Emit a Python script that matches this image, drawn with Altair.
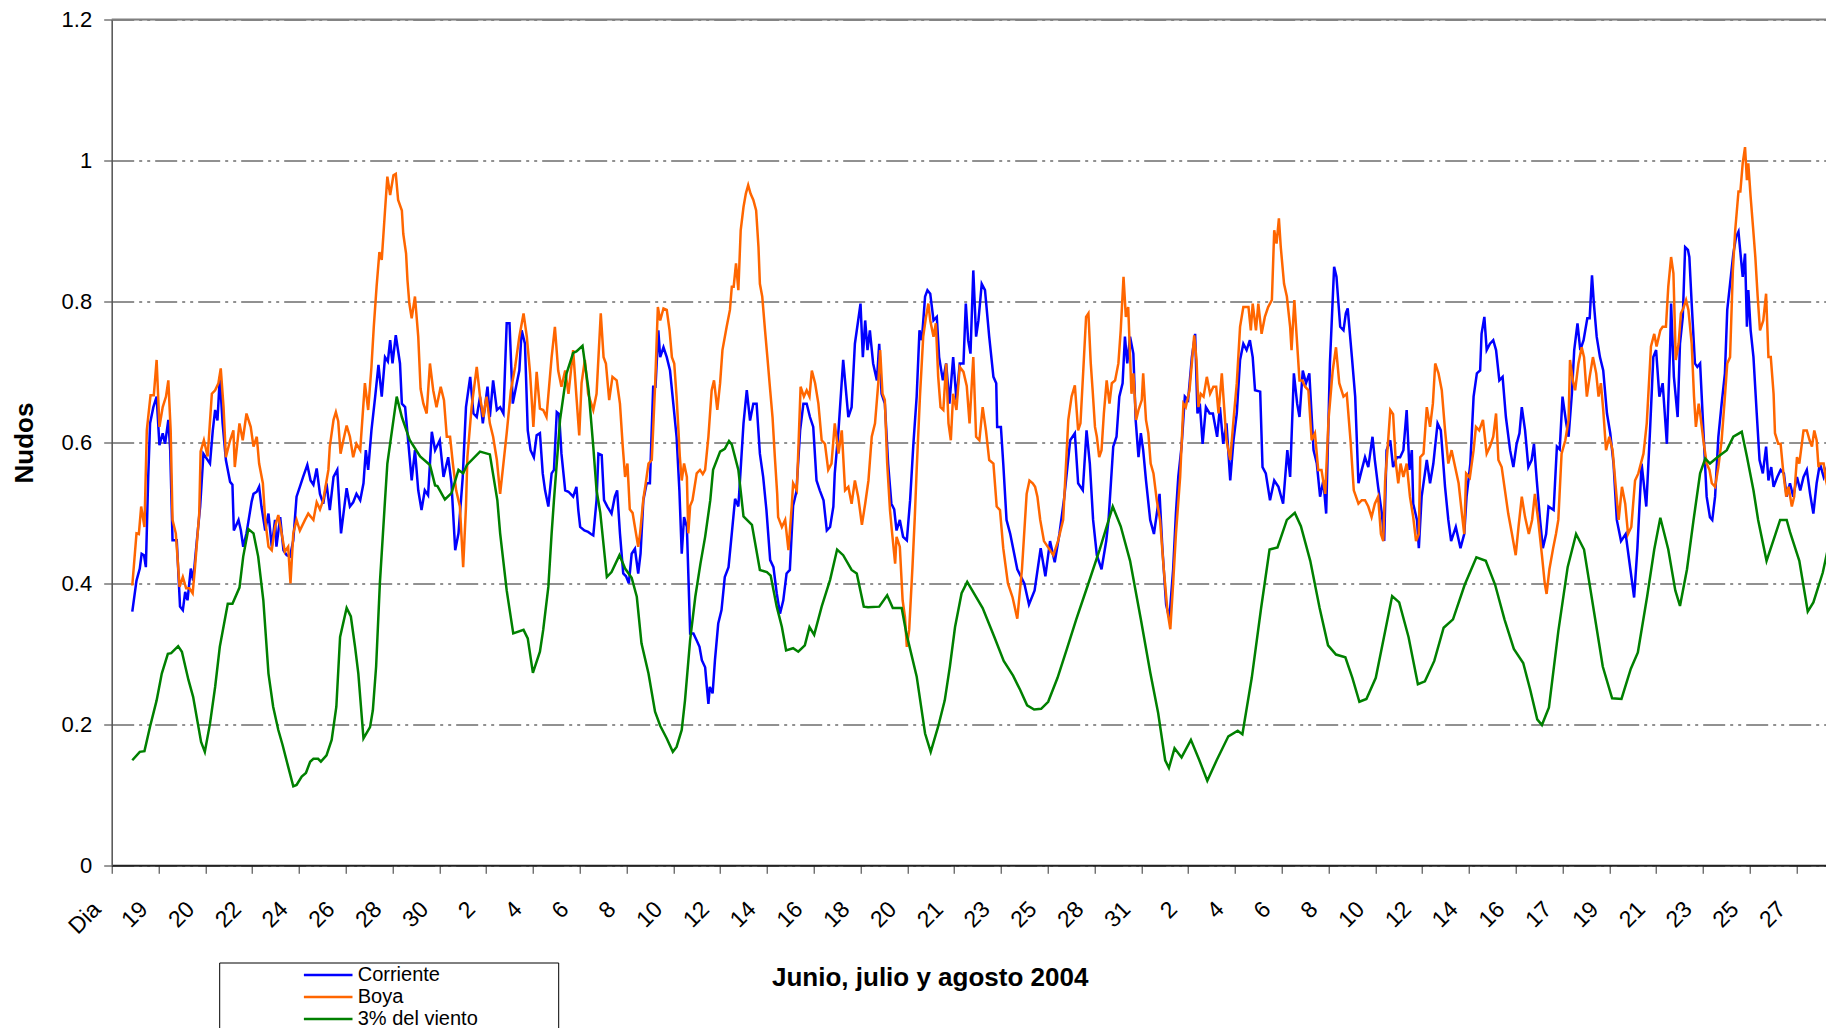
import altair as alt
import pandas as pd

# x positions are in units of the category-label step (tick 0 = "Dia")
tick_labels = ["Dia", "19", "20", "22", "24", "26", "28", "30", "2", "4", "6", "8", "10", "12",
               "14", "16", "18", "20", "21", "23", "25", "28", "31", "2", "4", "6", "8", "10",
               "12", "14", "16", "17", "19", "21", "23", "25", "27"]

series_names = ["Corriente", "Boya", "3% del viento"]
series_colors = ["#0000FF", "#FF6600", "#008000"]

corriente_t = [0.44, 0.53, 0.60, 0.64, 0.69, 0.73, 0.78, 0.82, 0.89, 0.96, 1.02, 1.09, 1.14, 1.21, 1.25, 1.30, 1.39, 1.46, 1.52, 1.57, 1.62, 1.69, 1.74, 1.82, 1.89, 1.96, 2.03, 2.10, 2.16, 2.21, 2.26, 2.31, 2.37, 2.44, 2.53, 2.58, 2.61, 2.71, 2.76, 2.81, 2.88, 2.99, 3.03, 3.10, 3.15, 3.20, 3.28, 3.35, 3.42, 3.49, 3.52, 3.60, 3.67, 3.74, 3.81, 3.88, 3.95, 4.02, 4.09, 4.18, 4.25, 4.31, 4.38, 4.45, 4.52, 4.59, 4.66, 4.74, 4.82, 4.90, 5.02, 5.09, 5.16, 5.23, 5.31, 5.38, 5.43, 5.48, 5.55, 5.63, 5.70, 5.77, 5.84, 5.90, 5.95, 6.00, 6.07, 6.16, 6.20, 6.27, 6.34, 6.41, 6.48, 6.55, 6.62, 6.69, 6.76, 6.84, 6.91, 7.01, 7.09, 7.19, 7.26, 7.34, 7.41, 7.50, 7.57, 7.66, 7.73, 7.80, 7.87, 7.93, 8.03, 8.08, 8.15, 8.23, 8.30, 8.37, 8.44, 8.50, 8.57, 8.64, 8.71, 8.76, 8.83, 8.89, 8.95, 9.02, 9.08, 9.15, 9.21, 9.26, 9.33, 9.40, 9.45, 9.51, 9.56, 9.61, 9.69, 9.76, 9.86, 9.93, 9.97, 10.01, 10.10, 10.18, 10.24, 10.29, 10.36, 10.40, 10.47, 10.52, 10.59, 10.68, 10.75, 10.80, 10.86, 10.93, 10.99, 11.05, 11.11, 11.18, 11.25, 11.30, 11.36, 11.43, 11.50, 11.57, 11.62, 11.68, 11.72, 11.79, 11.86, 11.93, 12.00, 12.07, 12.13, 12.18, 12.23, 12.29, 12.36, 12.43, 12.50, 12.56, 12.61, 12.68, 12.71, 12.75, 12.78, 12.84, 12.89, 12.96, 13.03, 13.10, 13.18, 13.25, 13.32, 13.39, 13.50, 13.57, 13.64, 13.71, 13.78, 13.85, 13.92, 13.99, 14.07, 14.14, 14.21, 14.28, 14.35, 14.42, 14.49, 14.56, 14.63, 14.71, 14.78, 14.85, 14.92, 14.99, 15.06, 15.13, 15.21, 15.28, 15.35, 15.42, 15.45, 15.53, 15.63, 15.74, 15.81, 15.88, 15.95, 16.00, 16.05, 16.10, 16.15, 16.20, 16.27, 16.35, 16.40, 16.45, 16.52, 16.59, 16.66, 16.72, 16.77, 16.84, 16.91, 16.99, 17.06, 17.13, 17.20, 17.26, 17.31, 17.38, 17.43, 17.49, 17.56, 17.63, 17.68, 17.76, 17.83, 17.90, 17.98, 18.05, 18.12, 18.20, 18.25, 18.30, 18.35, 18.41, 18.47, 18.52, 18.59, 18.66, 18.75, 18.84, 18.90, 18.92, 19.00, 19.05, 19.12, 19.20, 19.35, 19.50, 19.60, 19.72, 19.85, 19.95, 20.05, 20.15, 20.25, 20.35, 20.48, 20.58, 20.65, 20.75, 20.83, 20.90, 20.97, 21.05, 21.15, 21.25, 21.30, 21.40, 21.47, 21.53, 21.60, 21.65, 21.70, 21.76, 21.83, 21.88, 21.94, 21.99, 22.04, 22.10, 22.19, 22.27, 22.39, 22.45, 22.53, 22.60, 22.68, 22.74, 22.79, 22.86, 22.93, 23.00, 23.08, 23.15, 23.20, 23.25, 23.31, 23.38, 23.46, 23.53, 23.62, 23.68, 23.75, 23.82, 23.90, 23.97, 24.04, 24.11, 24.18, 24.25, 24.32, 24.38, 24.43, 24.54, 24.59, 24.66, 24.75, 24.84, 24.93, 25.03, 25.12, 25.18, 25.26, 25.33, 25.38, 25.45, 25.52, 25.59, 25.68, 25.75, 25.82, 25.89, 25.95, 26.03, 26.12, 26.17, 26.25, 26.32, 26.37, 26.41, 26.50, 26.57, 26.64, 26.71, 26.78, 26.85, 26.94, 26.99, 27.06, 27.14, 27.19, 27.24, 27.32, 27.38, 27.46, 27.53, 27.60, 27.67, 27.73, 27.78, 27.81, 27.89, 27.93, 27.99, 28.10, 28.17, 28.24, 28.33, 28.40, 28.49, 28.56, 28.62, 28.72, 28.82, 28.90, 28.95, 29.03, 29.10, 29.17, 29.24, 29.27, 29.33, 29.38, 29.45, 29.52, 29.58, 29.65, 29.72, 29.79, 29.88, 29.95, 30.02, 30.08, 30.13, 30.20, 30.27, 30.34, 30.39, 30.45, 30.52, 30.58, 30.65, 30.70, 30.81, 30.88, 30.94, 31.00, 31.08, 31.13, 31.20, 31.25, 31.32, 31.38, 31.45, 31.53, 31.58, 31.63, 31.67, 31.73, 31.80, 31.87, 31.95, 32.02, 32.09, 32.16, 32.25, 32.35, 32.45, 32.53, 32.60, 32.69, 32.79, 32.87, 32.94, 33.00, 33.07, 33.14, 33.23, 33.30, 33.32, 33.38, 33.46, 33.51, 33.57, 33.62, 33.68, 33.71, 33.76, 33.83, 33.88, 33.94, 34.01, 34.08, 34.15, 34.20, 34.26, 34.33, 34.40, 34.47, 34.52, 34.58, 34.65, 34.71, 34.76, 34.79, 34.85, 34.90, 34.94, 34.97, 35.02, 35.08, 35.15, 35.21, 35.28, 35.35, 35.40, 35.46, 35.51, 35.59, 35.66, 35.73, 35.79, 35.86, 35.93, 36.01, 36.08, 36.15, 36.22, 36.29, 36.36, 36.43, 36.50, 36.58, 36.65, 36.72, 36.80]
corriente_v = [0.360, 0.404, 0.421, 0.442, 0.440, 0.423, 0.550, 0.627, 0.650, 0.665, 0.596, 0.613, 0.598, 0.632, 0.589, 0.461, 0.461, 0.367, 0.362, 0.388, 0.376, 0.421, 0.404, 0.461, 0.509, 0.584, 0.577, 0.570, 0.617, 0.646, 0.631, 0.693, 0.627, 0.575, 0.544, 0.540, 0.475, 0.490, 0.475, 0.452, 0.471, 0.516, 0.527, 0.530, 0.537, 0.509, 0.475, 0.499, 0.452, 0.490, 0.452, 0.494, 0.447, 0.440, 0.438, 0.461, 0.523, 0.537, 0.551, 0.568, 0.546, 0.540, 0.563, 0.527, 0.513, 0.542, 0.504, 0.551, 0.561, 0.471, 0.535, 0.509, 0.515, 0.527, 0.518, 0.542, 0.589, 0.561, 0.617, 0.665, 0.710, 0.665, 0.721, 0.715, 0.745, 0.712, 0.752, 0.712, 0.655, 0.650, 0.598, 0.546, 0.589, 0.532, 0.504, 0.532, 0.525, 0.615, 0.589, 0.603, 0.551, 0.579, 0.542, 0.447, 0.471, 0.550, 0.650, 0.693, 0.641, 0.636, 0.665, 0.627, 0.679, 0.636, 0.688, 0.646, 0.650, 0.641, 0.769, 0.769, 0.655, 0.679, 0.702, 0.759, 0.740, 0.617, 0.589, 0.579, 0.610, 0.613, 0.556, 0.532, 0.509, 0.556, 0.561, 0.643, 0.640, 0.584, 0.532, 0.530, 0.523, 0.537, 0.504, 0.480, 0.475, 0.473, 0.470, 0.468, 0.518, 0.584, 0.582, 0.518, 0.509, 0.499, 0.523, 0.532, 0.471, 0.414, 0.410, 0.400, 0.442, 0.449, 0.414, 0.442, 0.518, 0.542, 0.542, 0.679, 0.679, 0.759, 0.721, 0.735, 0.721, 0.702, 0.655, 0.608, 0.532, 0.442, 0.494, 0.480, 0.329, 0.329, 0.319, 0.310, 0.291, 0.281, 0.258, 0.229, 0.253, 0.244, 0.291, 0.343, 0.362, 0.409, 0.423, 0.471, 0.520, 0.509, 0.627, 0.674, 0.631, 0.655, 0.655, 0.584, 0.551, 0.504, 0.433, 0.423, 0.386, 0.357, 0.376, 0.414, 0.419, 0.510, 0.530, 0.617, 0.655, 0.655, 0.636, 0.622, 0.546, 0.532, 0.518, 0.475, 0.480, 0.509, 0.556, 0.617, 0.717, 0.636, 0.650, 0.740, 0.773, 0.797, 0.721, 0.773, 0.731, 0.759, 0.712, 0.688, 0.740, 0.669, 0.655, 0.570, 0.513, 0.505, 0.475, 0.490, 0.466, 0.461, 0.518, 0.598, 0.665, 0.759, 0.745, 0.807, 0.816, 0.811, 0.773, 0.778, 0.721, 0.688, 0.712, 0.655, 0.721, 0.660, 0.712, 0.712, 0.797, 0.745, 0.726, 0.844, 0.750, 0.773, 0.825, 0.816, 0.750, 0.693, 0.684, 0.622, 0.622, 0.570, 0.490, 0.470, 0.420, 0.400, 0.370, 0.390, 0.450, 0.410, 0.460, 0.430, 0.470, 0.520, 0.603, 0.613, 0.542, 0.532, 0.617, 0.570, 0.490, 0.440, 0.420, 0.460, 0.490, 0.594, 0.608, 0.665, 0.684, 0.750, 0.712, 0.750, 0.726, 0.631, 0.579, 0.613, 0.589, 0.546, 0.490, 0.470, 0.527, 0.450, 0.370, 0.350, 0.420, 0.500, 0.551, 0.594, 0.665, 0.660, 0.721, 0.754, 0.641, 0.655, 0.598, 0.650, 0.641, 0.641, 0.608, 0.650, 0.598, 0.627, 0.546, 0.603, 0.641, 0.717, 0.740, 0.731, 0.745, 0.721, 0.674, 0.672, 0.565, 0.556, 0.518, 0.546, 0.537, 0.513, 0.589, 0.551, 0.698, 0.655, 0.636, 0.702, 0.684, 0.698, 0.589, 0.570, 0.523, 0.546, 0.499, 0.712, 0.849, 0.835, 0.764, 0.759, 0.783, 0.790, 0.721, 0.665, 0.542, 0.561, 0.579, 0.565, 0.608, 0.575, 0.537, 0.499, 0.460, 0.589, 0.603, 0.565, 0.579, 0.579, 0.589, 0.646, 0.561, 0.589, 0.513, 0.490, 0.450, 0.523, 0.575, 0.542, 0.570, 0.627, 0.617, 0.537, 0.490, 0.460, 0.480, 0.450, 0.470, 0.523, 0.570, 0.665, 0.698, 0.702, 0.754, 0.778, 0.731, 0.740, 0.745, 0.731, 0.688, 0.693, 0.636, 0.589, 0.565, 0.598, 0.613, 0.650, 0.617, 0.565, 0.575, 0.598, 0.546, 0.490, 0.450, 0.470, 0.509, 0.504, 0.594, 0.590, 0.665, 0.627, 0.608, 0.669, 0.731, 0.769, 0.731, 0.745, 0.776, 0.776, 0.837, 0.797, 0.750, 0.721, 0.702, 0.641, 0.613, 0.570, 0.490, 0.460, 0.470, 0.420, 0.380, 0.450, 0.570, 0.509, 0.617, 0.721, 0.731, 0.665, 0.684, 0.598, 0.736, 0.797, 0.693, 0.636, 0.740, 0.778, 0.877, 0.873, 0.863, 0.797, 0.712, 0.707, 0.712, 0.617, 0.523, 0.494, 0.490, 0.523, 0.608, 0.655, 0.698, 0.788, 0.825, 0.868, 0.892, 0.899, 0.877, 0.835, 0.868, 0.764, 0.816, 0.759, 0.721, 0.641, 0.575, 0.556, 0.594, 0.546, 0.565, 0.537, 0.551, 0.561, 0.556, 0.523, 0.542, 0.523, 0.551, 0.532, 0.551, 0.561, 0.527, 0.499, 0.542, 0.570, 0.551, 0.565, 0.579, 0.584]

boya_t = [0.44, 0.53, 0.58, 0.63, 0.70, 0.75, 0.83, 0.90, 0.96, 1.02, 1.09, 1.16, 1.21, 1.26, 1.30, 1.37, 1.45, 1.52, 1.59, 1.66, 1.73, 1.78, 1.87, 1.90, 1.97, 2.05, 2.14, 2.21, 2.28, 2.33, 2.39, 2.44, 2.53, 2.60, 2.63, 2.73, 2.80, 2.88, 2.97, 3.03, 3.10, 3.15, 3.23, 3.28, 3.35, 3.42, 3.49, 3.56, 3.63, 3.70, 3.77, 3.82, 3.88, 3.95, 4.02, 4.13, 4.20, 4.31, 4.38, 4.45, 4.52, 4.63, 4.66, 4.74, 4.79, 4.84, 4.89, 4.95, 5.02, 5.09, 5.16, 5.23, 5.31, 5.41, 5.48, 5.55, 5.60, 5.66, 5.72, 5.77, 5.84, 5.89, 5.95, 6.02, 6.07, 6.12, 6.20, 6.23, 6.29, 6.32, 6.36, 6.41, 6.48, 6.55, 6.60, 6.66, 6.73, 6.80, 6.87, 6.94, 7.03, 7.10, 7.16, 7.23, 7.29, 7.36, 7.44, 7.51, 7.57, 7.60, 7.69, 7.80, 7.87, 7.94, 8.01, 8.08, 8.15, 8.23, 8.30, 8.37, 8.44, 8.53, 8.62, 8.71, 8.80, 8.87, 8.94, 9.01, 9.08, 9.15, 9.22, 9.29, 9.40, 9.47, 9.54, 9.61, 9.69, 9.76, 9.86, 9.93, 9.99, 10.04, 10.11, 10.18, 10.29, 10.36, 10.45, 10.51, 10.56, 10.63, 10.70, 10.79, 10.86, 10.92, 10.97, 11.02, 11.07, 11.13, 11.18, 11.25, 11.29, 11.36, 11.40, 11.47, 11.54, 11.61, 11.67, 11.72, 11.79, 11.86, 11.92, 11.97, 12.02, 12.07, 12.11, 12.14, 12.18, 12.23, 12.29, 12.32, 12.36, 12.41, 12.50, 12.57, 12.63, 12.68, 12.75, 12.82, 12.87, 12.94, 13.00, 13.05, 13.14, 13.21, 13.25, 13.29, 13.34, 13.39, 13.44, 13.50, 13.55, 13.60, 13.65, 13.71, 13.77, 13.82, 13.85, 13.90, 13.96, 14.01, 14.07, 14.12, 14.17, 14.22, 14.24, 14.32, 14.39, 14.46, 14.53, 14.56, 14.64, 14.72, 14.79, 14.85, 14.91, 14.96, 15.03, 15.10, 15.17, 15.24, 15.31, 15.38, 15.45, 15.53, 15.60, 15.67, 15.74, 15.81, 15.88, 15.95, 16.03, 16.10, 16.17, 16.24, 16.31, 16.38, 16.42, 16.47, 16.52, 16.57, 16.63, 16.67, 16.74, 16.77, 16.84, 16.90, 16.95, 16.99, 17.04, 17.11, 17.16, 17.20, 17.27, 17.34, 17.40, 17.45, 17.49, 17.56, 17.61, 17.66, 17.71, 17.77, 17.83, 17.88, 17.93, 17.98, 18.05, 18.12, 18.20, 18.27, 18.33, 18.41, 18.47, 18.54, 18.61, 18.68, 18.75, 18.84, 18.91, 18.98, 19.05, 19.15, 19.25, 19.35, 19.45, 19.55, 19.61, 19.68, 19.73, 19.78, 19.84, 19.92, 20.02, 20.12, 20.22, 20.33, 20.44, 20.51, 20.58, 20.65, 20.70, 20.76, 20.82, 20.87, 20.92, 20.96, 21.01, 21.05, 21.10, 21.15, 21.20, 21.26, 21.32, 21.37, 21.44, 21.51, 21.56, 21.62, 21.67, 21.72, 21.79, 21.83, 21.89, 21.94, 22.01, 22.04, 22.10, 22.15, 22.20, 22.26, 22.33, 22.40, 22.48, 22.56, 22.62, 22.68, 22.74, 22.83, 22.90, 22.95, 23.03, 23.08, 23.13, 23.18, 23.22, 23.27, 23.33, 23.40, 23.47, 23.54, 23.60, 23.65, 23.72, 23.77, 23.82, 23.90, 23.97, 24.04, 24.11, 24.18, 24.24, 24.29, 24.34, 24.38, 24.45, 24.50, 24.57, 24.64, 24.71, 24.79, 24.84, 24.89, 24.94, 24.98, 25.05, 25.11, 25.18, 25.21, 25.27, 25.32, 25.38, 25.44, 25.50, 25.57, 25.64, 25.71, 25.78, 25.85, 25.93, 26.00, 26.09, 26.16, 26.23, 26.32, 26.39, 26.47, 26.54, 26.64, 26.71, 26.78, 26.85, 26.92, 26.99, 27.06, 27.12, 27.17, 27.21, 27.26, 27.32, 27.38, 27.44, 27.49, 27.54, 27.60, 27.67, 27.74, 27.81, 27.87, 27.93, 27.96, 28.03, 28.10, 28.17, 28.23, 28.28, 28.35, 28.42, 28.49, 28.56, 28.63, 28.69, 28.78, 28.85, 28.90, 28.94, 29.02, 29.10, 29.15, 29.22, 29.30, 29.38, 29.45, 29.52, 29.58, 29.63, 29.70, 29.77, 29.84, 29.92, 30.00, 30.06, 30.13, 30.20, 30.28, 30.35, 30.41, 30.48, 30.56, 30.62, 30.66, 30.72, 30.80, 30.86, 30.91, 30.98, 31.06, 31.13, 31.16, 31.22, 31.27, 31.34, 31.41, 31.46, 31.52, 31.58, 31.65, 31.72, 31.77, 31.82, 31.87, 31.93, 32.00, 32.07, 32.15, 32.20, 32.27, 32.34, 32.40, 32.47, 32.55, 32.62, 32.73, 32.80, 32.89, 32.96, 33.01, 33.09, 33.14, 33.21, 33.26, 33.32, 33.37, 33.42, 33.48, 33.53, 33.58, 33.64, 33.69, 33.76, 33.81, 33.85, 33.91, 33.95, 34.01, 34.08, 34.14, 34.19, 34.26, 34.33, 34.40, 34.47, 34.52, 34.58, 34.64, 34.69, 34.76, 34.80, 34.85, 34.90, 34.94, 34.97, 35.02, 35.07, 35.12, 35.17, 35.22, 35.29, 35.35, 35.40, 35.45, 35.51, 35.54, 35.61, 35.66, 35.72, 35.78, 35.83, 35.90, 35.95, 36.01, 36.06, 36.15, 36.22, 36.28, 36.33, 36.38, 36.43, 36.47, 36.50, 36.58, 36.63, 36.68, 36.73, 36.80]
boya_v = [0.397, 0.471, 0.470, 0.509, 0.480, 0.617, 0.667, 0.667, 0.717, 0.622, 0.650, 0.665, 0.688, 0.617, 0.490, 0.471, 0.395, 0.409, 0.393, 0.393, 0.386, 0.423, 0.499, 0.587, 0.603, 0.580, 0.669, 0.674, 0.684, 0.705, 0.650, 0.579, 0.603, 0.617, 0.565, 0.627, 0.603, 0.641, 0.622, 0.594, 0.608, 0.570, 0.542, 0.490, 0.452, 0.447, 0.480, 0.497, 0.471, 0.445, 0.452, 0.400, 0.471, 0.490, 0.475, 0.490, 0.499, 0.490, 0.515, 0.505, 0.518, 0.561, 0.594, 0.632, 0.643, 0.630, 0.584, 0.603, 0.624, 0.608, 0.579, 0.598, 0.589, 0.684, 0.646, 0.707, 0.764, 0.821, 0.870, 0.859, 0.929, 0.977, 0.951, 0.979, 0.981, 0.944, 0.929, 0.896, 0.868, 0.830, 0.797, 0.776, 0.807, 0.750, 0.676, 0.655, 0.641, 0.712, 0.674, 0.650, 0.679, 0.660, 0.608, 0.608, 0.570, 0.532, 0.509, 0.423, 0.509, 0.579, 0.650, 0.707, 0.665, 0.636, 0.665, 0.627, 0.608, 0.575, 0.527, 0.570, 0.613, 0.674, 0.707, 0.750, 0.783, 0.750, 0.698, 0.622, 0.700, 0.648, 0.646, 0.636, 0.721, 0.764, 0.702, 0.679, 0.702, 0.669, 0.731, 0.665, 0.610, 0.684, 0.717, 0.669, 0.646, 0.669, 0.783, 0.721, 0.712, 0.660, 0.693, 0.688, 0.655, 0.594, 0.551, 0.570, 0.505, 0.500, 0.480, 0.452, 0.471, 0.520, 0.537, 0.570, 0.575, 0.679, 0.792, 0.773, 0.790, 0.788, 0.759, 0.721, 0.712, 0.665, 0.617, 0.579, 0.546, 0.570, 0.551, 0.471, 0.510, 0.518, 0.556, 0.561, 0.555, 0.561, 0.608, 0.674, 0.688, 0.646, 0.684, 0.731, 0.764, 0.788, 0.821, 0.821, 0.854, 0.816, 0.901, 0.934, 0.953, 0.965, 0.953, 0.944, 0.929, 0.877, 0.825, 0.807, 0.759, 0.721, 0.674, 0.636, 0.579, 0.527, 0.494, 0.480, 0.490, 0.447, 0.509, 0.542, 0.532, 0.679, 0.665, 0.674, 0.665, 0.702, 0.684, 0.655, 0.603, 0.598, 0.561, 0.570, 0.627, 0.584, 0.617, 0.532, 0.537, 0.513, 0.546, 0.523, 0.483, 0.513, 0.546, 0.608, 0.627, 0.684, 0.731, 0.669, 0.660, 0.570, 0.504, 0.475, 0.428, 0.466, 0.452, 0.376, 0.352, 0.310, 0.334, 0.423, 0.494, 0.561, 0.665, 0.750, 0.778, 0.797, 0.773, 0.750, 0.769, 0.693, 0.650, 0.646, 0.712, 0.627, 0.603, 0.669, 0.646, 0.707, 0.700, 0.680, 0.627, 0.721, 0.608, 0.603, 0.650, 0.617, 0.575, 0.570, 0.509, 0.504, 0.450, 0.400, 0.380, 0.350, 0.420, 0.527, 0.546, 0.542, 0.537, 0.523, 0.490, 0.460, 0.450, 0.440, 0.460, 0.490, 0.632, 0.665, 0.681, 0.617, 0.627, 0.702, 0.778, 0.783, 0.712, 0.674, 0.622, 0.608, 0.579, 0.589, 0.641, 0.688, 0.655, 0.684, 0.688, 0.712, 0.759, 0.835, 0.778, 0.792, 0.669, 0.698, 0.632, 0.646, 0.660, 0.698, 0.632, 0.613, 0.570, 0.556, 0.518, 0.490, 0.420, 0.360, 0.335, 0.400, 0.470, 0.551, 0.655, 0.650, 0.674, 0.712, 0.752, 0.717, 0.650, 0.669, 0.665, 0.693, 0.669, 0.679, 0.679, 0.641, 0.698, 0.650, 0.603, 0.575, 0.632, 0.684, 0.764, 0.792, 0.792, 0.792, 0.759, 0.797, 0.759, 0.797, 0.754, 0.778, 0.792, 0.802, 0.901, 0.882, 0.918, 0.877, 0.825, 0.807, 0.764, 0.731, 0.802, 0.750, 0.688, 0.688, 0.679, 0.674, 0.603, 0.613, 0.561, 0.561, 0.527, 0.632, 0.702, 0.735, 0.684, 0.665, 0.669, 0.603, 0.532, 0.513, 0.518, 0.518, 0.509, 0.494, 0.513, 0.523, 0.470, 0.460, 0.546, 0.589, 0.646, 0.640, 0.570, 0.542, 0.570, 0.551, 0.570, 0.523, 0.494, 0.460, 0.470, 0.579, 0.584, 0.650, 0.622, 0.655, 0.712, 0.698, 0.674, 0.617, 0.570, 0.589, 0.570, 0.542, 0.499, 0.470, 0.556, 0.550, 0.589, 0.622, 0.617, 0.632, 0.584, 0.594, 0.608, 0.641, 0.575, 0.565, 0.532, 0.499, 0.470, 0.440, 0.480, 0.523, 0.494, 0.470, 0.490, 0.527, 0.490, 0.440, 0.400, 0.385, 0.420, 0.450, 0.470, 0.490, 0.584, 0.603, 0.632, 0.717, 0.688, 0.674, 0.712, 0.735, 0.721, 0.665, 0.693, 0.721, 0.698, 0.665, 0.684, 0.646, 0.589, 0.608, 0.589, 0.527, 0.490, 0.537, 0.513, 0.470, 0.480, 0.546, 0.556, 0.584, 0.627, 0.736, 0.754, 0.736, 0.759, 0.764, 0.764, 0.821, 0.863, 0.840, 0.717, 0.740, 0.783, 0.790, 0.802, 0.788, 0.740, 0.665, 0.622, 0.655, 0.636, 0.603, 0.570, 0.561, 0.542, 0.537, 0.565, 0.603, 0.665, 0.712, 0.721, 0.844, 0.901, 0.956, 0.956, 0.996, 1.019, 0.972, 0.996, 0.948, 0.906, 0.863, 0.807, 0.759, 0.773, 0.811, 0.721, 0.721, 0.669, 0.613, 0.598, 0.598, 0.556, 0.523, 0.537, 0.509, 0.523, 0.579, 0.570, 0.617, 0.617, 0.603, 0.594, 0.617, 0.603, 0.565, 0.570, 0.570, 0.546, 0.532, 0.556, 0.570]

viento_t = [0.44, 0.60, 0.70, 0.82, 0.96, 1.07, 1.20, 1.27, 1.42, 1.50, 1.64, 1.74, 1.91, 1.99, 2.10, 2.21, 2.31, 2.48, 2.58, 2.73, 2.81, 2.92, 3.03, 3.13, 3.24, 3.35, 3.45, 3.56, 3.65, 3.77, 3.88, 3.95, 4.06, 4.15, 4.24, 4.31, 4.41, 4.47, 4.59, 4.70, 4.80, 4.88, 5.02, 5.11, 5.20, 5.27, 5.38, 5.52, 5.58, 5.65, 5.73, 5.84, 5.89, 6.09, 6.20, 6.37, 6.59, 6.80, 6.91, 6.96, 7.12, 7.26, 7.41, 7.51, 7.59, 7.87, 8.08, 8.24, 8.30, 8.44, 8.58, 8.80, 8.89, 9.00, 9.15, 9.22, 9.33, 9.40, 9.45, 9.58, 9.72, 9.86, 9.93, 10.06, 10.19, 10.29, 10.36, 10.44, 10.58, 10.68, 10.85, 10.97, 11.11, 11.22, 11.32, 11.47, 11.61, 11.72, 11.86, 11.99, 12.07, 12.18, 12.25, 12.36, 12.47, 12.58, 12.68, 12.79, 12.85, 13.00, 13.10, 13.19, 13.25, 13.39, 13.50, 13.68, 13.85, 14.00, 14.08, 14.21, 14.32, 14.41, 14.56, 14.67, 14.81, 14.91, 15.01, 15.17, 15.35, 15.50, 15.63, 15.81, 15.92, 16.07, 16.16, 16.40, 16.57, 16.69, 16.88, 16.98, 17.20, 17.38, 17.50, 17.66, 17.80, 17.91, 18.02, 18.16, 18.28, 18.61, 18.86, 19.06, 19.26, 19.41, 19.56, 19.71, 19.86, 20.01, 20.21, 20.41, 20.61, 20.86, 21.11, 21.39, 21.56, 21.76, 21.99, 22.19, 22.36, 22.51, 22.59, 22.71, 22.86, 23.06, 23.24, 23.41, 23.61, 23.86, 24.06, 24.16, 24.36, 24.56, 24.74, 24.91, 25.11, 25.28, 25.41, 25.61, 25.81, 25.99, 26.16, 26.36, 26.51, 26.66, 26.81, 27.01, 27.21, 27.36, 27.51, 27.71, 27.91, 28.06, 28.26, 28.46, 28.66, 28.91, 29.16, 29.36, 29.56, 29.76, 29.96, 30.16, 30.31, 30.46, 30.56, 30.71, 30.91, 31.11, 31.29, 31.46, 31.66, 31.86, 32.06, 32.26, 32.46, 32.61, 32.81, 32.96, 33.09, 33.26, 33.41, 33.51, 33.66, 33.80, 33.94, 34.05, 34.15, 34.33, 34.51, 34.65, 34.83, 34.94, 35.08, 35.18, 35.36, 35.55, 35.65, 35.79, 35.86, 36.06, 36.24, 36.36, 36.56, 36.74]
viento_v = [0.149, 0.161, 0.162, 0.197, 0.234, 0.272, 0.300, 0.301, 0.311, 0.303, 0.263, 0.239, 0.175, 0.161, 0.201, 0.253, 0.310, 0.371, 0.371, 0.394, 0.438, 0.477, 0.471, 0.438, 0.376, 0.272, 0.225, 0.192, 0.171, 0.140, 0.112, 0.114, 0.126, 0.131, 0.147, 0.151, 0.151, 0.147, 0.156, 0.178, 0.225, 0.324, 0.365, 0.353, 0.310, 0.272, 0.180, 0.196, 0.220, 0.282, 0.400, 0.518, 0.570, 0.665, 0.636, 0.603, 0.580, 0.568, 0.539, 0.538, 0.519, 0.528, 0.561, 0.556, 0.568, 0.587, 0.583, 0.518, 0.471, 0.390, 0.329, 0.334, 0.322, 0.273, 0.303, 0.334, 0.395, 0.471, 0.518, 0.632, 0.698, 0.727, 0.729, 0.737, 0.674, 0.594, 0.532, 0.500, 0.409, 0.416, 0.440, 0.421, 0.408, 0.381, 0.315, 0.272, 0.218, 0.198, 0.180, 0.161, 0.168, 0.192, 0.234, 0.320, 0.381, 0.428, 0.466, 0.518, 0.561, 0.587, 0.591, 0.602, 0.597, 0.561, 0.495, 0.483, 0.419, 0.416, 0.411, 0.367, 0.338, 0.305, 0.308, 0.303, 0.312, 0.338, 0.327, 0.367, 0.405, 0.448, 0.440, 0.419, 0.414, 0.367, 0.366, 0.367, 0.383, 0.365, 0.365, 0.329, 0.268, 0.187, 0.161, 0.197, 0.234, 0.282, 0.338, 0.386, 0.402, 0.365, 0.324, 0.290, 0.269, 0.249, 0.227, 0.221, 0.222, 0.232, 0.266, 0.307, 0.349, 0.398, 0.448, 0.509, 0.481, 0.432, 0.349, 0.274, 0.216, 0.149, 0.138, 0.166, 0.153, 0.178, 0.149, 0.120, 0.149, 0.183, 0.191, 0.186, 0.266, 0.365, 0.448, 0.451, 0.490, 0.500, 0.481, 0.432, 0.365, 0.312, 0.299, 0.295, 0.266, 0.232, 0.236, 0.266, 0.332, 0.382, 0.373, 0.324, 0.257, 0.261, 0.290, 0.337, 0.349, 0.398, 0.437, 0.432, 0.398, 0.349, 0.307, 0.287, 0.249, 0.207, 0.199, 0.224, 0.332, 0.423, 0.470, 0.448, 0.365, 0.282, 0.237, 0.236, 0.279, 0.302, 0.382, 0.448, 0.493, 0.448, 0.390, 0.368, 0.420, 0.490, 0.556, 0.577, 0.570, 0.580, 0.589, 0.608, 0.615, 0.580, 0.532, 0.490, 0.432, 0.470, 0.490, 0.490, 0.473, 0.432, 0.360, 0.373, 0.415, 0.470]

y_ticks = [0, 0.2, 0.4, 0.6, 0.8, 1, 1.2]

FONT = "Liberation Sans"

frames = []
for name, ts, vs in zip(series_names, [corriente_t, boya_t, viento_t], [corriente_v, boya_v, viento_v]):
    frames.append(pd.DataFrame({"t": ts, "v": vs, "serie": name}))
df = pd.concat(frames, ignore_index=True)

label_js = "[" + ",".join("'" + s + "'" for s in tick_labels) + "]"

x_enc = alt.X(
    "t:Q",
    scale=alt.Scale(domain=[0, 36.63], nice=False, zero=False),
    axis=alt.Axis(
        values=list(range(len(tick_labels))),
        labelExpr=label_js + "[datum.value]",
        labelAngle=315,
        labelAlign="right",
        labelBaseline="middle",
        labelOffset=-15,
        labelPadding=32,
        labelFontSize=23,
        labelFont=FONT,
        labelColor="black",
        labelOverlap=False,
        labelFlush=False,
        labelBound=False,
        tickSize=8,
        tickColor="#333333",
        domainColor="#222222",
        domainWidth=2,
        grid=False,
        title="Junio, julio y agosto 2004",
        titleFont=FONT,
        titleFontSize=26,
        titleFontWeight="bold",
        titleColor="black",
        titleX=818,
        titleY=112,
        titleAlign="center",
        titleBaseline="middle",
    ),
)

y_enc = alt.Y(
    "v:Q",
    scale=alt.Scale(domain=[0, 1.2], nice=False, zero=True),
    axis=alt.Axis(
        values=y_ticks,
        format="~g",
        labelFontSize=22,
        labelFont=FONT,
        labelColor="black",
        labelPadding=12,
        tickSize=8,
        tickColor="#333333",
        domainColor="#555555",
        domainWidth=1.5,
        grid=True,
        gridColor="#222222",
        gridWidth=1,
        gridDash=[22, 5, 3, 5, 3, 5],
        title="Nudos",
        titleFont=FONT,
        titleFontSize=26,
        titleFontWeight="bold",
        titleColor="black",
        titleAngle=270,
        titleX=-87,
        titleY=423,
        titleAlign="center",
        titleBaseline="middle",
    ),
)

color_enc = alt.Color(
    "serie:N",
    scale=alt.Scale(domain=series_names, range=series_colors),
    legend=alt.Legend(
        orient="none",
        legendX=206,
        legendY=945,
        title=None,
        padding=0,
        labelFont=FONT,
        labelFontSize=20,
        labelColor="black",
        labelOffset=19,
        rowPadding=1,
        symbolType="M-2.7,0H2.7",
        symbolSize=324,
        symbolStrokeWidth=2.5,
    ),
)

lines = []
for name in series_names:
    lines.append(
        alt.Chart(df)
        .transform_filter(alt.datum.serie == name)
        .mark_line(strokeWidth=2.5, clip=True)
        .encode(x=x_enc, y=y_enc, color=color_enc)
    )

top_rule = (
    alt.Chart(pd.DataFrame({"v": [1.2]}))
    .mark_rule(color="#808080", strokeWidth=2)
    .encode(y=alt.Y("v:Q"))
)

legend_box = (
    alt.Chart(pd.DataFrame({"a": [0]}))
    .mark_rect(fill="white", stroke="black", strokeWidth=1)
    .encode(x=alt.value(108), x2=alt.value(447), y=alt.value(943.5), y2=alt.value(1040))
)

chart = (
    alt.layer(legend_box, top_rule, *lines)
    .properties(
        width=1714.3,
        height=845.8,
        autosize=alt.AutoSizeParams(type="none"),
        padding={"left": 103.7, "top": 11.5, "right": 0, "bottom": 162.7},
    )
    .configure_view(fill="#C0C0C0", strokeWidth=0)
    .configure(font=FONT)
)

chart.save("out.html", embed_options={"renderer": "svg", "actions": False})
